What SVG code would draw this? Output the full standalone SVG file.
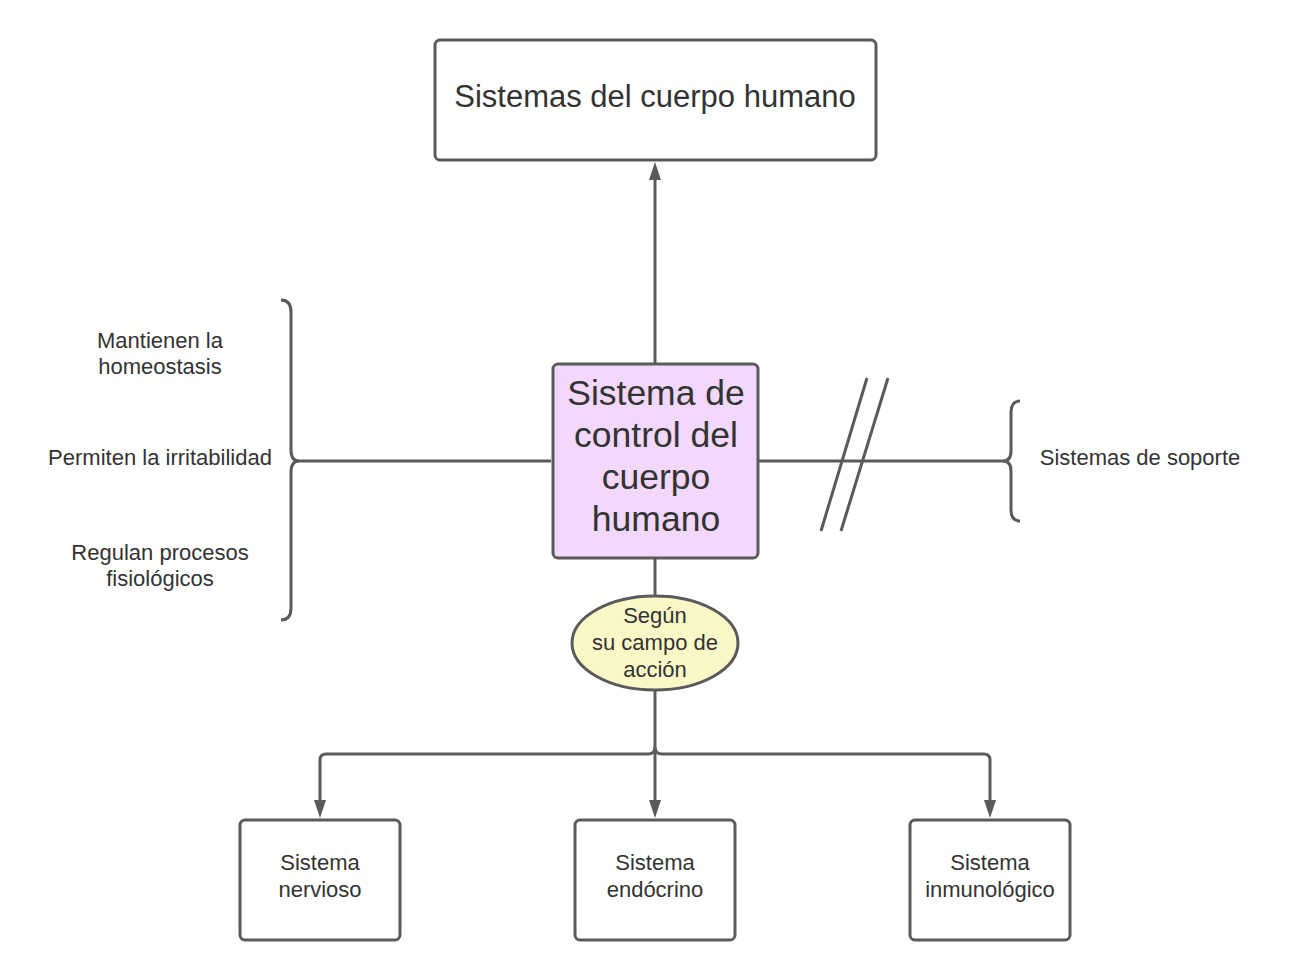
<svg xmlns="http://www.w3.org/2000/svg" width="1300" height="980" viewBox="0 0 1300 980">
<defs>
<style>
.box{fill:#ffffff;stroke:#5a5a5a;stroke-width:3}
.ln{fill:none;stroke:#5a5a5a;stroke-width:3}
text{font-family:"Liberation Sans",Arial,sans-serif;fill:#333333;text-anchor:middle}
.t20{font-size:22px}
</style>
</defs>
<rect width="1300" height="980" fill="#ffffff"/>
<g id="connectors">
<path class="ln" d="M655,363 V180"/>
<path d="M649,180 L661,180 L655,162 Z" fill="#5a5a5a"/>
<path class="ln" d="M297,461 H551"/>
<path class="ln" d="M758,461 H1004"/>
<path class="ln" d="M867,378 L821,531 M888,378 L841,531"/>
<path class="ln" d="M655,558 V597"/>
<path class="ln" d="M655,690 V754"/>
<path class="ln" d="M648,754 Q655,754 655,747 Q655,754 662,754 H984 Q990,754 990,760 V800 M648,754 H326 Q320,754 320,760 V800 M655,754 V800"/>
<path d="M314,800 L326,800 L320,818 Z M649,800 L661,800 L655,818 Z M984,800 L996,800 L990,818 Z" fill="#5a5a5a"/>
<path class="ln" d="M281,300 Q291,300 291,312 V450 Q291,461 299,461 Q291,461 291,472 V608 Q291,620 281,620"/>
<path class="ln" d="M1020,401 Q1011,401 1011,412 V451 Q1011,461 1003,461 Q1011,461 1011,471 V510 Q1011,521 1020,521"/>
</g>
<g id="top">
<rect class="box" x="435" y="40" width="441" height="120" rx="5"/>
<text x="655" y="107" font-size="31">Sistemas del cuerpo humano</text>
</g>
<g id="center">
<rect x="553" y="364" width="205" height="194" rx="5" fill="#f1d8fc" stroke="#5a5a5a" stroke-width="3"/>
<text font-size="35.5"><tspan x="656" y="405">Sistema de</tspan><tspan x="656" y="447">control del</tspan><tspan x="656" y="489">cuerpo</tspan><tspan x="656" y="531">humano</tspan></text>
</g>
<g id="ellipse">
<ellipse cx="655" cy="643" rx="83" ry="47" fill="#fbf8c8" stroke="#5a5a5a" stroke-width="3"/>
<text class="t20"><tspan x="655" y="623">Según</tspan><tspan x="655" y="650">su campo de</tspan><tspan x="655" y="677">acción</tspan></text>
</g>
<g id="left-labels">
<text class="t20"><tspan x="160" y="348">Mantienen la</tspan><tspan x="160" y="374">homeostasis</tspan></text>
<text class="t20" x="160" y="465">Permiten la irritabilidad</text>
<text class="t20"><tspan x="160" y="560">Regulan procesos</tspan><tspan x="160" y="586">fisiológicos</tspan></text>
</g>
<g id="right-label">
<text class="t20" x="1140" y="465">Sistemas de soporte</text>
</g>
<g id="nervioso">
<rect class="box" x="240" y="820" width="160" height="120" rx="5"/>
<text class="t20"><tspan x="320" y="870">Sistema</tspan><tspan x="320" y="897">nervioso</tspan></text>
</g>
<g id="endocrino">
<rect class="box" x="575" y="820" width="160" height="120" rx="5"/>
<text class="t20"><tspan x="655" y="870">Sistema</tspan><tspan x="655" y="897">endócrino</tspan></text>
</g>
<g id="inmunologico">
<rect class="box" x="910" y="820" width="160" height="120" rx="5"/>
<text class="t20"><tspan x="990" y="870">Sistema</tspan><tspan x="990" y="897">inmunológico</tspan></text>
</g>
</svg>
